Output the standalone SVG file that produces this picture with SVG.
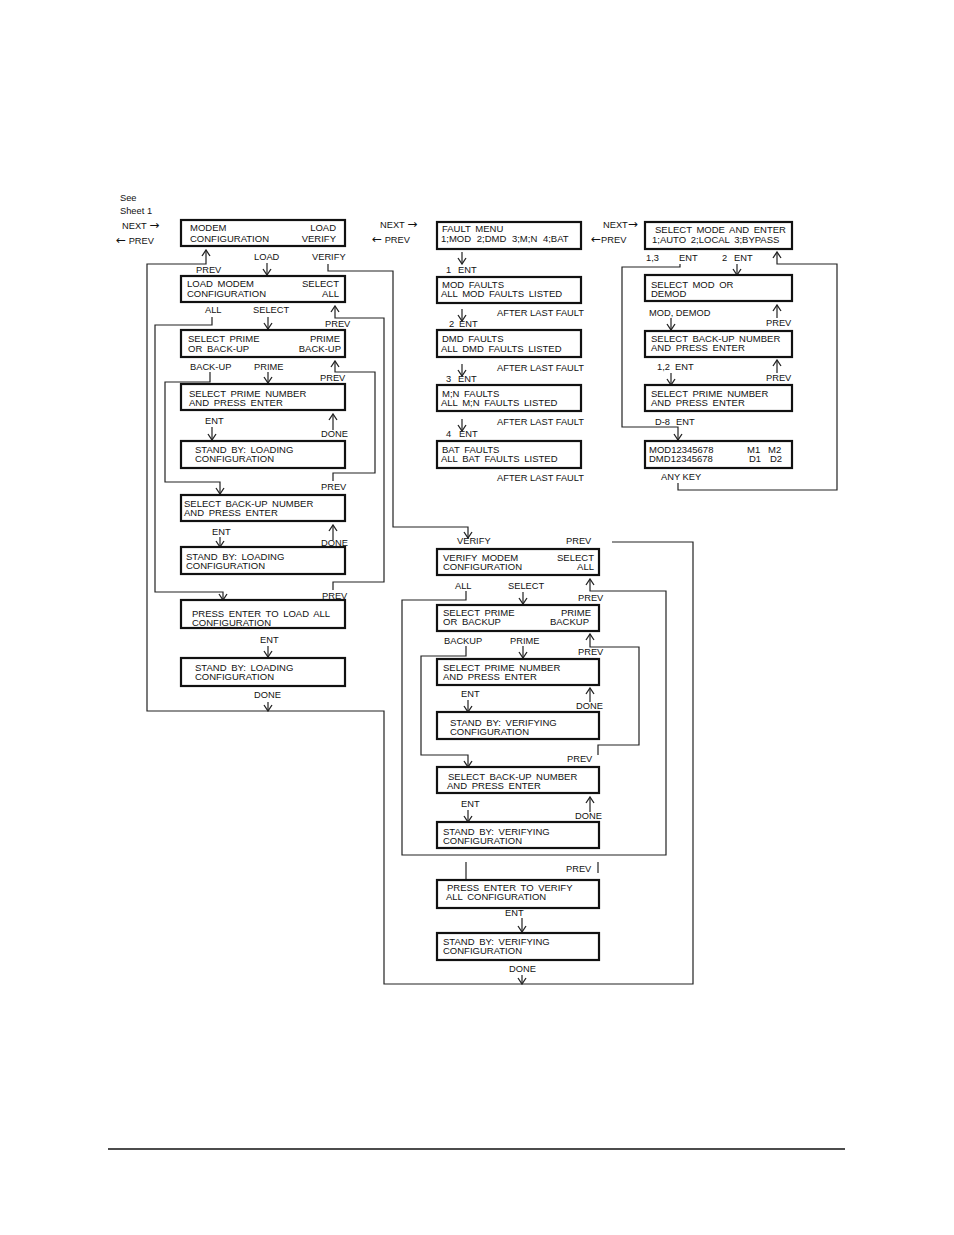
<svg xmlns="http://www.w3.org/2000/svg" width="954" height="1235" viewBox="0 0 954 1235">
<style>
.bx{fill:#fff;stroke:#111;stroke-width:2.2}
.t{font-family:"Liberation Sans",Arial,"DejaVu Sans",sans-serif;font-size:9.5px;fill:#111;word-spacing:2px}
.l{font-family:"Liberation Sans",Arial,"DejaVu Sans",sans-serif;font-size:9.3px;fill:#111}
.ar{font-family:"DejaVu Sans",sans-serif;font-size:12px}
.r{text-anchor:end}
.c{fill:none;stroke:#222;stroke-width:1.2}
.a{marker-end:url(#ah)}
</style>
<defs>
<marker id="ah" markerUnits="userSpaceOnUse" markerWidth="10" markerHeight="10" viewBox="0 0 10 10" refX="9" refY="5" orient="auto">
<path d="M3,1 L9,5 L3,9" fill="none" stroke="#222" stroke-width="1.3"/>
</marker>
</defs>
<rect width="954" height="1235" fill="#fff"/>

<g id="labels-top">
<text class="l" x="120" y="201">See</text>
<text class="l" x="120" y="214">Sheet 1</text>
<text class="l" x="122" y="229">NEXT <tspan class="ar">→</tspan></text>
<text class="l" x="116" y="244"><tspan class="ar">←</tspan> PREV</text>
<text class="l" x="380" y="228">NEXT <tspan class="ar">→</tspan></text>
<text class="l" x="372" y="243"><tspan class="ar">←</tspan> PREV</text>
<text class="l" x="603" y="228">NEXT<tspan class="ar">→</tspan></text>
<text class="l" x="591" y="243"><tspan class="ar">←</tspan>PREV</text>
</g>

<g id="connectors">
<!-- left column -->
<path class="c a" d="M612,542 H693 V984 H384 V711 H147 V264 H206 V250"/>
<path class="c a" d="M267,263 V275"/>
<path class="c a" d="M212,317 V325 H155 V592 H223 V600"/>
<path class="c a" d="M268,317 V329"/>
<path class="c a" d="M333,590 V582 H384 V318 H335 V306"/>
<path class="c a" d="M210,372 V382 H165 V482 H220 V494"/>
<path class="c a" d="M268,372 V383"/>
<path class="c a" d="M333,481 V473 H375 V372 H335 V361"/>
<path class="c a" d="M212,427 V440"/>
<path class="c a" d="M333,430 V414"/>
<path class="c a" d="M220,537 V547"/>
<path class="c a" d="M333,540 V525"/>
<path class="c a" d="M268,646 V657"/>
<path class="c a" d="M268,702 V711"/>
<!-- fault column -->
<path class="c a" d="M462,252 V264"/>
<path class="c a" d="M462,309 V321"/>
<path class="c a" d="M462,364 V376"/>
<path class="c a" d="M462,419 V431"/>
<!-- right column -->
<path class="c a" d="M680,264 V267 H622 V427 H678 V440"/>
<path class="c a" d="M737,264 V275"/>
<path class="c a" d="M678,483 V490 H837 V264 H777 V252"/>
<path class="c a" d="M671,318 V330"/>
<path class="c a" d="M777,318 V305"/>
<path class="c a" d="M671,373 V385"/>
<path class="c a" d="M777,373 V360"/>
<!-- verify column -->
<path class="c a" d="M328,264 V271 H393 V527 H468 V538"/>
<path class="c a" d="M466,591 V600 H402 V855 H666 V591 H590 V579"/>
<path class="c a" d="M523,592 V604"/>
<path class="c a" d="M466,646 V656 H421 V755 H468 V767"/>
<path class="c a" d="M523,646 V658"/>
<path class="c a" d="M598,755 V745 H639 V647 H590 V634"/>
<path class="c a" d="M468,700 V712"/>
<path class="c a" d="M590,702 V688"/>
<path class="c a" d="M468,810 V822"/>
<path class="c a" d="M590,812 V797"/>
<path class="c" d="M466,862 V880"/>
<path class="c" d="M598,862 V873"/>
<path class="c a" d="M522,918 V932"/>
<path class="c a" d="M522,975 V984"/>
</g>

<g id="edge-labels">
<text class="l" x="196" y="273">PREV</text>
<text class="l" x="254" y="260">LOAD</text>
<text class="l" x="312" y="260">VERIFY</text>
<text class="l" x="205" y="313">ALL</text>
<text class="l" x="253" y="313">SELECT</text>
<text class="l" x="325" y="327">PREV</text>
<text class="l" x="190" y="370">BACK-UP</text>
<text class="l" x="254" y="370">PRIME</text>
<text class="l" x="320" y="381">PREV</text>
<text class="l" x="205" y="424">ENT</text>
<text class="l" x="321" y="437">DONE</text>
<text class="l" x="321" y="490">PREV</text>
<text class="l" x="212" y="535">ENT</text>
<text class="l" x="321" y="546">DONE</text>
<text class="l" x="322" y="599">PREV</text>
<text class="l" x="260" y="643">ENT</text>
<text class="l" x="254" y="698">DONE</text>

<text class="l" x="446" y="273">1</text><text class="l" x="458" y="273">ENT</text>
<text class="l" x="449" y="327">2</text><text class="l" x="459" y="327">ENT</text>
<text class="l" x="446" y="382">3</text><text class="l" x="458" y="382">ENT</text>
<text class="l" x="446" y="437">4</text><text class="l" x="459" y="437">ENT</text>
<text class="l" x="497" y="316">AFTER LAST FAULT</text>
<text class="l" x="497" y="371">AFTER LAST FAULT</text>
<text class="l" x="497" y="425">AFTER LAST FAULT</text>
<text class="l" x="497" y="481">AFTER LAST FAULT</text>

<text class="l" x="646" y="261">1,3</text>
<text class="l" x="679" y="261">ENT</text>
<text class="l" x="722" y="261">2</text><text class="l" x="734" y="261">ENT</text>
<text class="l" x="649" y="316">MOD, DEMOD</text>
<text class="l" x="766" y="326">PREV</text>
<text class="l" x="657" y="370">1,2</text><text class="l" x="675" y="370">ENT</text>
<text class="l" x="766" y="381">PREV</text>
<text class="l" x="655" y="425">D-8</text><text class="l" x="676" y="425">ENT</text>
<text class="l" x="661" y="480">ANY KEY</text>

<text class="l" x="457" y="544">VERIFY</text>
<text class="l" x="566" y="544">PREV</text>
<text class="l" x="455" y="589">ALL</text>
<text class="l" x="508" y="589">SELECT</text>
<text class="l" x="578" y="601">PREV</text>
<text class="l" x="444" y="644">BACKUP</text>
<text class="l" x="510" y="644">PRIME</text>
<text class="l" x="578" y="655">PREV</text>
<text class="l" x="461" y="697">ENT</text>
<text class="l" x="576" y="709">DONE</text>
<text class="l" x="567" y="762">PREV</text>
<text class="l" x="461" y="807">ENT</text>
<text class="l" x="575" y="819">DONE</text>
<text class="l" x="566" y="872">PREV</text>
<text class="l" x="505" y="916">ENT</text>
<text class="l" x="509" y="972">DONE</text>
</g>

<!-- left column nodes -->
<g id="b1"><rect class="bx" x="181" y="220" width="164" height="26"/>
<text class="t" x="190" y="231">MODEM</text><text class="t" x="190" y="242">CONFIGURATION</text>
<text class="t r" x="336" y="231">LOAD</text><text class="t r" x="336" y="242">VERIFY</text></g>
<g id="b2"><rect class="bx" x="181" y="276" width="164" height="26"/>
<text class="t" x="187" y="287">LOAD MODEM</text><text class="t" x="187" y="297">CONFIGURATION</text>
<text class="t r" x="339" y="287">SELECT</text><text class="t r" x="339" y="297">ALL</text></g>
<g id="b3"><rect class="bx" x="181" y="330" width="164" height="27"/>
<text class="t" x="188" y="342">SELECT PRIME</text><text class="t" x="188" y="352">OR BACK-UP</text>
<text class="t r" x="340" y="342">PRIME</text><text class="t r" x="341" y="352">BACK-UP</text></g>
<g id="b4"><rect class="bx" x="181" y="384" width="164" height="26"/>
<text class="t" x="189" y="397">SELECT PRIME NUMBER</text><text class="t" x="189" y="406">AND PRESS ENTER</text></g>
<g id="b5"><rect class="bx" x="181" y="441" width="164" height="27"/>
<text class="t" x="195" y="453">STAND BY: LOADING</text><text class="t" x="195" y="462">CONFIGURATION</text></g>
<g id="b6"><rect class="bx" x="181" y="495" width="164" height="26"/>
<text class="t" x="184" y="507">SELECT BACK-UP NUMBER</text><text class="t" x="184" y="516">AND PRESS ENTER</text></g>
<g id="b7"><rect class="bx" x="181" y="547" width="164" height="27"/>
<text class="t" x="186" y="560">STAND BY: LOADING</text><text class="t" x="186" y="569">CONFIGURATION</text></g>
<g id="b8"><rect class="bx" x="181" y="600" width="164" height="28"/>
<text class="t" x="192" y="617">PRESS ENTER TO LOAD ALL</text><text class="t" x="192" y="626">CONFIGURATION</text></g>
<g id="b9"><rect class="bx" x="181" y="658" width="164" height="28"/>
<text class="t" x="195" y="671">STAND BY: LOADING</text><text class="t" x="195" y="680">CONFIGURATION</text></g>

<!-- fault column -->
<g id="f1"><rect class="bx" x="437" y="222" width="144" height="27"/>
<text class="t" x="442" y="232">FAULT MENU</text><text class="t" x="441" y="242" style="word-spacing:3px">1;MOD 2;DMD 3;M;N 4;BAT</text></g>
<g id="f2"><rect class="bx" x="437" y="277" width="144" height="26"/>
<text class="t" x="442" y="288">MOD FAULTS</text><text class="t" x="441" y="297">ALL MOD FAULTS LISTED</text></g>
<g id="f3"><rect class="bx" x="437" y="330" width="144" height="27"/>
<text class="t" x="442" y="342">DMD FAULTS</text><text class="t" x="441" y="352">ALL DMD FAULTS LISTED</text></g>
<g id="f4"><rect class="bx" x="437" y="385" width="144" height="26"/>
<text class="t" x="442" y="397">M;N FAULTS</text><text class="t" x="441" y="406">ALL M;N FAULTS LISTED</text></g>
<g id="f5"><rect class="bx" x="437" y="441" width="144" height="27"/>
<text class="t" x="442" y="453">BAT FAULTS</text><text class="t" x="441" y="462">ALL BAT FAULTS LISTED</text></g>

<!-- right column -->
<g id="r1"><rect class="bx" x="645" y="222" width="147" height="27"/>
<text class="t" x="655" y="233">SELECT MODE AND ENTER</text><text class="t" x="652" y="243">1;AUTO 2;LOCAL 3;BYPASS</text></g>
<g id="r2"><rect class="bx" x="645" y="275" width="147" height="26"/>
<text class="t" x="651" y="288">SELECT MOD OR</text><text class="t" x="651" y="297">DEMOD</text></g>
<g id="r3"><rect class="bx" x="645" y="331" width="147" height="26"/>
<text class="t" x="651" y="342">SELECT BACK-UP NUMBER</text><text class="t" x="651" y="351">AND PRESS ENTER</text></g>
<g id="r4"><rect class="bx" x="645" y="385" width="147" height="26"/>
<text class="t" x="651" y="397">SELECT PRIME NUMBER</text><text class="t" x="651" y="406">AND PRESS ENTER</text></g>
<g id="r5"><rect class="bx" x="645" y="441" width="147" height="27"/>
<text class="t" x="649" y="453">MOD12345678</text><text class="t" x="649" y="462">DMD12345678</text>
<text class="t" x="747" y="453">M1</text><text class="t" x="768" y="453">M2</text>
<text class="t" x="749" y="462">D1</text><text class="t" x="770" y="462">D2</text></g>

<!-- verify column -->
<g id="v1"><rect class="bx" x="437" y="549" width="162" height="26"/>
<text class="t" x="443" y="561">VERIFY MODEM</text><text class="t" x="443" y="570">CONFIGURATION</text>
<text class="t r" x="594" y="561">SELECT</text><text class="t r" x="594" y="570">ALL</text></g>
<g id="v2"><rect class="bx" x="437" y="605" width="162" height="26"/>
<text class="t" x="443" y="616">SELECT PRIME</text><text class="t" x="443" y="625">OR BACKUP</text>
<text class="t r" x="591" y="616">PRIME</text><text class="t r" x="589" y="625">BACKUP</text></g>
<g id="v3"><rect class="bx" x="437" y="659" width="162" height="26"/>
<text class="t" x="443" y="671">SELECT PRIME NUMBER</text><text class="t" x="443" y="680">AND PRESS ENTER</text></g>
<g id="v4"><rect class="bx" x="437" y="712" width="162" height="27"/>
<text class="t" x="450" y="726">STAND BY: VERIFYING</text><text class="t" x="450" y="735">CONFIGURATION</text></g>
<g id="v5"><rect class="bx" x="437" y="767" width="162" height="26"/>
<text class="t" x="448" y="780">SELECT BACK-UP NUMBER</text><text class="t" x="447" y="789">AND PRESS ENTER</text></g>
<g id="v6"><rect class="bx" x="437" y="822" width="162" height="26"/>
<text class="t" x="443" y="835">STAND BY: VERIFYING</text><text class="t" x="443" y="844">CONFIGURATION</text></g>
<g id="v7"><rect class="bx" x="437" y="880" width="162" height="28"/>
<text class="t" x="447" y="891">PRESS ENTER TO VERIFY</text><text class="t" x="446" y="900">ALL CONFIGURATION</text></g>
<g id="v8"><rect class="bx" x="437" y="933" width="162" height="27"/>
<text class="t" x="443" y="945">STAND BY: VERIFYING</text><text class="t" x="443" y="954">CONFIGURATION</text></g>

<line x1="108" y1="1149" x2="845" y2="1149" stroke="#111" stroke-width="1.5"/>
</svg>
